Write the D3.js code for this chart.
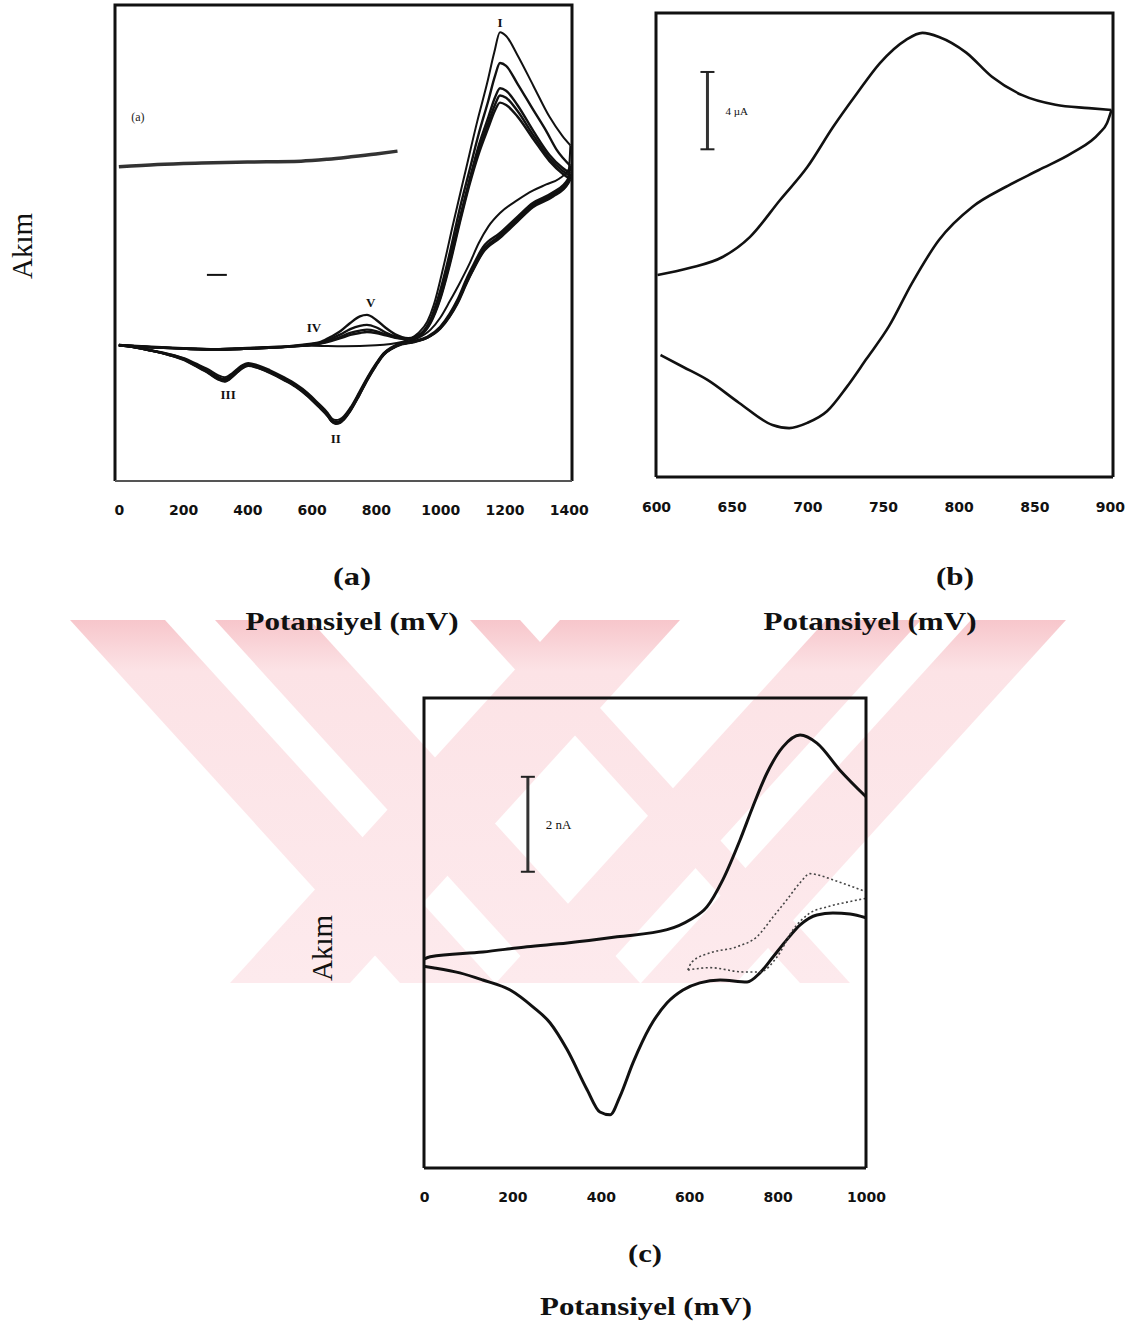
<!DOCTYPE html>
<html>
<head>
<meta charset="utf-8">
<script src="https://cdn.jsdelivr.net/npm/d3@7"></script>
<style>
  html, body { margin: 0; padding: 0; background: #fff; }
  svg { display: block; }
</style>
</head>
<body>
<svg id="fig" width="1138" height="1335"></svg>
<script>
// ---------- panel (a): multi-cycle voltammogram (mV, arbitrary current) ----------
const aTicks = [0, 200, 400, 600, 800, 1000, 1200, 1400];

// blank / background line marked "(a)"
const aBlank = [[0, 38.0], [120, 38.5], [257, 38.8], [400, 39.0], [567, 39.2], [650, 39.6], [722, 40.1], [800, 40.7], [867, 41.3]];

// first cycle (no IV/V waves, highest peak I)
const aFwd1 = [[0, 0.6], [100, 0.1], [200, -0.1], [300, -0.3], [400, 0], [500, 0.2], [600, 0.4], [700, 0.3], [800, 0.5], [880, 1.2], [930, 3], [960, 5.5], [980, 9], [1010, 17], [1040, 26], [1080, 37.5], [1115, 47.5], [1146, 55.6], [1168, 62], [1186, 66.3], [1205, 65.5], [1240, 61.5], [1290, 55], [1340, 48.5], [1380, 44.5], [1405, 42.5]];
const aRev1 = [[1405, 42.5], [1400, 37.5], [1370, 35.5], [1330, 34.3], [1288, 33], [1240, 31], [1186, 28.3], [1150, 25.5], [1120, 22], [1090, 17.5], [1060, 13.5], [1030, 9.8], [1000, 6.3], [970, 3.8], [930, 2.0], [900, 1.3], [876, 1.0], [850, 0.2], [824, -1.1], [800, -3.3], [774, -6.1], [748, -9.3], [722, -12.4], [700, -14.4], [688, -15.0], [675, -15.2], [662, -14.8], [650, -13.7], [620, -11.6], [588, -9.5], [550, -7.6], [514, -6.2], [470, -4.7], [430, -3.6], [403, -3.2], [380, -3.8], [355, -5.2], [330, -6.2], [310, -5.8], [280, -4.6], [240, -3.3], [204, -2.2], [150, -1.2], [100, -0.5], [50, 0.1], [0, 0.6]];

// later cycles (IV and V waves appear, peak I decreases)
const aFwd2 = [[0, 0.6], [100, 0.2], [200, -0.1], [300, -0.3], [400, -0.1], [500, 0.2], [580, 0.7], [630, 1.3], [660, 2.3], [690, 3.5], [720, 5.2], [750, 6.6], [772, 6.9], [800, 5.9], [830, 4.2], [860, 2.8], [900, 2.0], [940, 3.0], [970, 6], [1000, 12], [1030, 20], [1060, 29], [1090, 37], [1120, 45], [1150, 52], [1170, 57], [1186, 59.8], [1205, 59.2], [1240, 55.5], [1290, 49.9], [1330, 45.5], [1363, 41.5], [1405, 38.2]];
const aRev2 = [[1405, 38.2], [1398, 35.5], [1350, 32.6], [1288, 30.4], [1240, 27.5], [1186, 24.1], [1133, 21.1], [1100, 17], [1084, 14.8], [1053, 10.0], [1030, 7.2], [1000, 4.4], [960, 2.3], [920, 1.4], [880, 0.9], [850, 0.0], [824, -1.3], [800, -3.5], [774, -6.4], [748, -9.6], [722, -12.7], [700, -14.7], [688, -15.4], [675, -15.6], [662, -15.1], [650, -14.0], [620, -11.9], [588, -9.8], [550, -7.9], [514, -6.5], [470, -5.0], [430, -3.9], [403, -3.5], [380, -4.1], [355, -5.5], [330, -6.6], [310, -6.2], [280, -5.0], [240, -3.6], [204, -2.4], [150, -1.3], [100, -0.6], [50, 0.1], [0, 0.6]];

const aFwd3 = [[0, 0.5], [100, 0.1], [200, -0.2], [300, -0.4], [400, -0.2], [500, 0.1], [580, 0.6], [630, 1.1], [660, 1.9], [690, 2.8], [720, 3.9], [750, 4.6], [772, 4.8], [800, 4.3], [830, 3.2], [860, 2.4], [900, 1.9], [940, 2.9], [970, 5.6], [1000, 11], [1030, 18.5], [1060, 27], [1090, 35], [1120, 42.5], [1150, 48.5], [1170, 52.5], [1186, 54.5], [1205, 54], [1240, 51], [1290, 45.5], [1340, 40.5], [1380, 37.8], [1405, 36.6]];
const aRev3 = [[1405, 36.6], [1398, 35], [1350, 32.2], [1288, 30.0], [1240, 27], [1186, 23.6], [1133, 20.5], [1100, 16.5], [1084, 14.3], [1053, 9.6], [1030, 6.9], [1000, 4.2], [960, 2.2], [920, 1.3], [880, 0.8], [850, -0.1], [824, -1.4], [800, -3.6], [774, -6.5], [748, -9.8], [722, -12.9], [700, -14.9], [688, -15.6], [675, -15.8], [662, -15.3], [650, -14.2], [620, -12.1], [588, -10.0], [550, -8.0], [514, -6.6], [470, -5.1], [430, -4.0], [403, -3.6], [380, -4.3], [355, -5.8], [330, -6.9], [310, -6.5], [280, -5.2], [240, -3.7], [204, -2.5], [150, -1.4], [100, -0.6], [50, 0.1], [0, 0.5]];

const aFwd4 = [[0, 0.5], [100, 0.1], [200, -0.2], [300, -0.4], [400, -0.2], [500, 0.1], [580, 0.5], [630, 1.0], [660, 1.6], [690, 2.3], [720, 3.1], [750, 3.6], [772, 3.8], [800, 3.5], [830, 2.8], [860, 2.2], [900, 1.8], [940, 2.8], [970, 5.4], [1000, 10.5], [1030, 18], [1060, 26.5], [1090, 34.5], [1120, 41.5], [1150, 47.3], [1170, 51], [1186, 53], [1205, 52.5], [1240, 49.8], [1290, 44.6], [1340, 39.8], [1380, 37.2], [1405, 36]];
const aRev4 = [[1405, 36], [1398, 34.7], [1350, 31.9], [1288, 29.7], [1240, 26.7], [1186, 23.3], [1133, 20.2], [1100, 16.2], [1084, 14], [1053, 9.4], [1030, 6.7], [1000, 4.1], [960, 2.1], [920, 1.3], [880, 0.8], [850, -0.1], [824, -1.4], [800, -3.7], [774, -6.6], [748, -9.9], [722, -13.0], [700, -15.0], [688, -15.7], [675, -15.9], [662, -15.4], [650, -14.3], [620, -12.2], [588, -10.1], [550, -8.1], [514, -6.7], [470, -5.2], [430, -4.1], [403, -3.7], [380, -4.4], [355, -5.9], [330, -7.0], [310, -6.6], [280, -5.3], [240, -3.8], [204, -2.5], [150, -1.4], [100, -0.6], [50, 0.1], [0, 0.5]];

const aFwd5 = [[0, 0.5], [100, 0.1], [200, -0.2], [300, -0.4], [400, -0.2], [500, 0.1], [580, 0.5], [630, 0.9], [660, 1.4], [690, 2.0], [720, 2.7], [750, 3.1], [772, 3.3], [800, 3.1], [830, 2.6], [860, 2.1], [900, 1.8], [940, 2.7], [970, 5.2], [1000, 10.2], [1030, 17.5], [1060, 26], [1090, 34], [1120, 40.8], [1150, 46.3], [1170, 49.8], [1186, 51.5], [1205, 51], [1240, 48.6], [1290, 43.8], [1340, 39.2], [1380, 36.6], [1405, 35.4]];
const aRev5 = [[1405, 35.4], [1398, 34.5], [1350, 31.7], [1288, 29.5], [1240, 26.5], [1186, 23.1], [1133, 20], [1100, 16], [1084, 13.8], [1053, 9.2], [1030, 6.6], [1000, 4.0], [960, 2.1], [920, 1.2], [880, 0.7], [850, -0.2], [824, -1.5], [800, -3.8], [774, -6.7], [748, -10.0], [722, -13.1], [700, -15.1], [688, -15.8], [675, -16.0], [662, -15.5], [650, -14.4], [620, -12.3], [588, -10.2], [550, -8.2], [514, -6.8], [470, -5.3], [430, -4.2], [403, -3.8], [380, -4.5], [355, -6.0], [330, -7.1], [310, -6.7], [280, -5.4], [240, -3.9], [204, -2.6], [150, -1.4], [100, -0.6], [50, 0.1], [0, 0.5]];

const aPeakLabels = [
  { text: 'I', mv: 1186, v: 68.4 },
  { text: 'II', mv: 675, v: -19.0 },
  { text: 'III', mv: 340, v: -9.9 },
  { text: 'IV', mv: 607, v: 4.3 },
  { text: 'V', mv: 784, v: 9.4 }
];

// ---------- panel (b): single scan, 600-900 mV (µA) ----------
const bTicks = [600, 650, 700, 750, 800, 850, 900];
const bFwd = [[601, 1.45], [622, 1.81], [644, 2.38], [662, 3.41], [682, 5.33], [700, 7.03], [717, 9.10], [733, 10.86], [748, 12.41], [765, 13.6], [776, 13.97], [787, 13.76], [805, 12.95], [822, 11.7], [842, 10.75], [864, 10.25], [886, 10.08], [901, 9.98]];
const bRev = [[901, 9.98], [898, 9.3], [893, 8.79], [875, 7.76], [853, 6.88], [831, 6.0], [809, 4.97], [787, 3.26], [769, 1.0], [754, -1.2], [739, -2.9], [726, -4.35], [713, -5.6], [700, -6.2], [688, -6.47], [677, -6.31], [655, -5.17], [634, -3.98], [618, -3.31], [603, -2.69]];
const bScale = { mv: 634, from: 7.95, size: 4, label: '4 µA' };

// ---------- panel (c): 0-1000 mV (nA) ----------
const cTicks = [0, 200, 400, 600, 800, 1000];
const cFwd = [[0, 0.10], [14, 0.15], [133, 0.25], [233, 0.36], [324, 0.44], [437, 0.57], [550, 0.72], [602, 0.93], [640, 1.2], [676, 1.77], [715, 2.61], [744, 3.31], [776, 4.02], [812, 4.57], [851, 4.82], [889, 4.65], [941, 4.08], [1000, 3.52]];
const cRev = [[0, -0.05], [20, -0.08], [81, -0.19], [133, -0.34], [195, -0.55], [247, -0.91], [285, -1.24], [324, -1.81], [369, -2.65], [398, -3.12], [421, -3.18], [443, -2.80], [473, -2.08], [511, -1.33], [550, -0.82], [586, -0.55], [624, -0.40], [670, -0.34], [731, -0.38], [760, -0.19], [790, 0.15], [821, 0.51], [851, 0.82], [889, 1.03], [925, 1.07], [964, 1.05], [1000, 0.97]];
const cDot1 = [[597, -0.13], [606, 0.04], [647, 0.23], [708, 0.36], [753, 0.57], [790, 0.99], [821, 1.35], [851, 1.71], [873, 1.9], [900, 1.85], [925, 1.77], [971, 1.62], [1000, 1.52]];
const cDot2 = [[597, -0.13], [647, -0.08], [722, -0.17], [760, -0.17], [799, 0.15], [835, 0.72], [873, 1.07], [912, 1.2], [957, 1.3], [1000, 1.38]];
const cScale = { mv: 235, from: 1.94, size: 2, label: '2 nA' };

// ---------- drawing ----------
const svg = d3.select('#fig');
const serif = '"Liberation Serif", "Times New Roman", serif';
const sans = '"DejaVu Sans", sans-serif';

// background watermark (decorative diagonal bands)
const wmTop = 620, wmBottom = 983;
const wmBands = [
  [70, 165, 330], [215, 310, 330],
  [971, 1066, -330], [826, 921, -330],
  [560, 680, -330], [470, 520, 330]
];
const defs = svg.append('defs');
const grad = defs.append('linearGradient').attr('id', 'wmGrad')
  .attr('gradientUnits', 'userSpaceOnUse')
  .attr('x1', 0).attr('y1', wmTop).attr('x2', 0).attr('y2', wmBottom);
grad.append('stop').attr('offset', '0%').attr('stop-color', '#f7c6cb');
grad.append('stop').attr('offset', '14%').attr('stop-color', '#fce3e6');
grad.append('stop').attr('offset', '100%').attr('stop-color', '#fdeaed');
svg.append('g').selectAll('polygon').data(wmBands).join('polygon')
  .attr('points', d => [[d[0], wmTop], [d[1], wmTop], [d[1] + d[2], wmBottom], [d[0] + d[2], wmBottom]].join(' '))
  .attr('fill', 'url(#wmGrad)');

const smooth = (xs, ys) => d3.line()
  .x(d => xs(d[0]))
  .y(d => ys(d[1]))
  .curve(d3.curveMonotoneX);
const ascending = pts => pts.slice().sort((p, q) => p[0] - q[0]);

function frame(xs, ys, bottomStyle) {
  const [x0, x1] = xs.range();
  const [yb, yt] = ys.range();
  const g = svg.append('g').attr('fill', 'none');
  g.append('path').attr('d', `M${x0},${yb}V${yt}H${x1}V${yb}`)
    .attr('stroke', '#111').attr('stroke-width', 3);
  g.append('line').attr('x1', x0).attr('x2', x1).attr('y1', yb).attr('y2', yb)
    .attr('stroke', bottomStyle || '#111').attr('stroke-width', bottomStyle ? 2 : 3);
}

function axis(xs, ys, ticks, pad) {
  const g = svg.append('g')
    .attr('transform', `translate(0,${ys.range()[0]})`)
    .call(d3.axisBottom(xs).tickValues(ticks).tickSize(0).tickPadding(pad).tickFormat(d3.format('d')));
  g.select('.domain').remove();
  g.selectAll('text')
    .style('font-family', sans).style('font-weight', 'bold')
    .style('font-size', '14px').attr('fill', '#111');
}

function scaleBar(xs, ys, s, fontSize) {
  const g = svg.append('g');
  const x = xs(s.mv), yA = ys(s.from), yB = ys(s.from + s.size);
  g.append('line').attr('x1', x).attr('x2', x).attr('y1', yA).attr('y2', yB)
    .attr('stroke', '#333').attr('stroke-width', 3);
  [yA, yB].forEach(y => g.append('line').attr('x1', x - 7).attr('x2', x + 7).attr('y1', y).attr('y2', y)
    .attr('stroke', '#222').attr('stroke-width', 2));
  g.append('text').attr('x', x + 18).attr('y', (yA + yB) / 2)
    .attr('dominant-baseline', 'central')
    .style('font-family', serif).style('font-size', fontSize + 'px').attr('fill', '#111')
    .text(s.label);
}

function boldLabel(text, cx, baseline, size, len) {
  svg.append('text').attr('x', cx - len / 2).attr('y', baseline)
    .attr('textLength', len).attr('lengthAdjust', 'spacingAndGlyphs')
    .style('font-family', serif).style('font-weight', 'bold')
    .style('font-size', size + 'px').attr('fill', '#111')
    .text(text);
}

function akim(cx, cy) {
  svg.append('text').attr('transform', `translate(${cx},${cy}) rotate(-90)`)
    .attr('text-anchor', 'middle').attr('dominant-baseline', 'central')
    .style('font-family', serif).style('font-size', '29px').attr('fill', '#111')
    .text('Akım');
}

// ---- panel (a)
const xA = d3.scaleLinear().domain([-12, 1410]).range([115, 572]);
const yA = d3.scaleLinear().domain([-28, 72]).range([481, 5]);
const lineA = smooth(xA, yA);
const aScans = [
  [aFwd1, aRev1], [aFwd2, aRev2], [aFwd3, aRev3], [aFwd4, aRev4], [aFwd5, aRev5]
];
const gA = svg.append('g');
gA.append('path').datum(aBlank).attr('d', lineA)
  .attr('fill', 'none').attr('stroke', '#333').attr('stroke-width', 3.5);
aScans.forEach(([fwd, rev], i) => {
  [fwd, ascending(rev)].forEach(seg => gA.append('path').datum(seg).attr('d', lineA)
    .attr('fill', 'none').attr('stroke', '#111')
    .attr('stroke-width', i === 0 ? 2 : 2.4));
});
gA.selectAll('text.peak').data(aPeakLabels).join('text').attr('class', 'peak')
  .attr('x', d => xA(d.mv)).attr('y', d => yA(d.v))
  .attr('text-anchor', 'middle').attr('dominant-baseline', 'central')
  .style('font-family', serif).style('font-weight', 'bold').style('font-size', '13px')
  .attr('fill', '#111').text(d => d.text);
gA.append('text').attr('x', xA(59)).attr('y', yA(48.4))
  .attr('text-anchor', 'middle').attr('dominant-baseline', 'central')
  .style('font-family', serif).style('font-size', '12px').attr('fill', '#222').text('(a)');
gA.append('line').attr('x1', xA(274)).attr('x2', xA(336)).attr('y1', yA(15.3)).attr('y2', yA(15.3))
  .attr('stroke', '#111').attr('stroke-width', 2);
frame(xA, yA, '#555');
axis(xA, yA, aTicks, 24);
akim(22, 246);

// ---- panel (b)
const xB = d3.scaleLinear().domain([600, 902]).range([656, 1113]);
const yB = d3.scaleLinear().domain([-9, 15]).range([477, 13]);
const lineB = smooth(xB, yB);
[bFwd, ascending(bRev)].forEach(seg => svg.append('path').datum(seg).attr('d', lineB)
  .attr('fill', 'none').attr('stroke', '#111').attr('stroke-width', 2.6));
scaleBar(xB, yB, bScale, 11);
frame(xB, yB);
axis(xB, yB, bTicks, 25);

// ---- panel (c)
const xC = d3.scaleLinear().domain([0, 1000]).range([424, 866]);
const yC = d3.scaleLinear().domain([-4.3, 5.6]).range([1168, 698]);
const lineC = smooth(xC, yC);
[cFwd, cRev].forEach(seg => svg.append('path').datum(seg).attr('d', lineC)
  .attr('fill', 'none').attr('stroke', '#111').attr('stroke-width', 3));
[cDot1, cDot2].forEach(d => svg.append('path').datum(d).attr('d', lineC)
  .attr('fill', 'none').attr('stroke', '#444').attr('stroke-width', 1.6).attr('stroke-dasharray', '2,2.5'));
scaleBar(xC, yC, cScale, 13);
frame(xC, yC);
axis(xC, yC, cTicks, 24);
akim(322, 948);

// ---- captions
boldLabel('(a)', 352, 585, 25, 38);
boldLabel('(b)', 955, 585, 25, 38);
boldLabel('Potansiyel (mV)', 352, 630, 25, 213);
boldLabel('Potansiyel (mV)', 870, 630, 25, 213);
boldLabel('(c)', 645, 1262, 25, 34);
boldLabel('Potansiyel (mV)', 646, 1315, 25, 212);
</script>
</body>
</html>
